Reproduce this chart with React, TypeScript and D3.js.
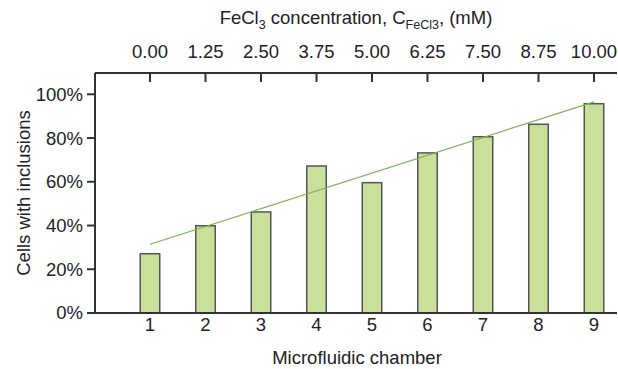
import React from "react";
import * as d3 from "d3";

const chambers = [1, 2, 3, 4, 5, 6, 7, 8, 9];
const inclusions = [27.1, 39.9, 46.2, 67.2, 59.6, 73.2, 80.6, 86.3, 95.7];
const concLabels = ["0.00", "1.25", "2.50", "3.75", "5.00", "6.25", "7.50", "8.75", "10.00"];
const yTicks = [0, 20, 40, 60, 80, 100];

const W = 618;
const H = 369;
const M = { left: 95, right: 617, top: 73, bottom: 313 };
const FONT = "'Liberation Sans', Arial, sans-serif";
const FS = 18.5;

export default function App() {
  const x = d3.scaleLinear().domain([1, 9]).range([150, 594]);
  const y = d3.scaleLinear().domain([0, 100]).range([M.bottom, 94.3]);
  const barW = 19.5;

  // least-squares trend line
  const mx = d3.mean(chambers)!;
  const my = d3.mean(inclusions)!;
  const slope =
    d3.sum(chambers.map((c, i) => (c - mx) * (inclusions[i] - my))) /
    d3.sum(chambers.map((c) => (c - mx) ** 2));
  const icpt = my - slope * mx;
  const trend = d3.line<number>().x((c) => x(c)).y((c) => y(icpt + slope * c));

  return (
    <svg
      width={W}
      height={H}
      style={{ position: "absolute", left: 0, top: 0, background: "#fff" }}
      fontFamily={FONT}
    >
      {chambers.map((c, i) => (
        <rect
          key={c}
          x={x(c) - barW / 2}
          y={y(inclusions[i])}
          width={barW}
          height={y(0) - y(inclusions[i])}
          fill="#c9e09a"
          stroke="#555"
          strokeWidth={1.5}
        />
      ))}
      <path d={trend([1, 9]) || ""} fill="none" stroke="#7cb356" strokeWidth={1.2} />

      <line x1={M.left} x2={M.left} y1={M.top} y2={M.bottom + 1} stroke="#333" strokeWidth={2} />
      <line x1={M.left} x2={M.right} y1={M.bottom} y2={M.bottom} stroke="#333" strokeWidth={2} />
      <line x1={M.left} x2={M.right} y1={M.top} y2={M.top} stroke="#333" strokeWidth={2} />

      {yTicks.map((t) => (
        <g key={t}>
          <line x1={M.left - 8} x2={M.left} y1={y(t)} y2={y(t)} stroke="#333" strokeWidth={2} />
          <text x={M.left - 12} y={y(t)} dy="0.35em" textAnchor="end" fontSize={FS} fill="#222">
            {t}%
          </text>
        </g>
      ))}

      {chambers.map((c) => (
        <text key={c} x={x(c)} y={331} textAnchor="middle" fontSize={FS} fill="#222">
          {c}
        </text>
      ))}

      {chambers.map((c, i) => (
        <g key={c}>
          <line x1={x(c)} x2={x(c)} y1={M.top} y2={M.top + 9} stroke="#333" strokeWidth={2} />
          <text x={x(c)} y={58} textAnchor="middle" fontSize={FS} fill="#222">
            {concLabels[i]}
          </text>
        </g>
      ))}

      <text x={356} y={24} textAnchor="middle" fontSize={FS} fill="#222">
        FeCl<tspan fontSize={12.5} dy={5}>3</tspan>
        <tspan dy={-5}> concentration, C</tspan>
        <tspan fontSize={12.5} dy={5}>FeCl3</tspan>
        <tspan dy={-5}>, (mM)</tspan>
      </text>
      <text x={357} y={364} textAnchor="middle" fontSize={FS} fill="#222">
        Microfluidic chamber
      </text>
      <text
        transform={`translate(30,193) rotate(-90)`}
        textAnchor="middle"
        fontSize={FS}
        fill="#222"
      >
        Cells with inclusions
      </text>
    </svg>
  );
}
